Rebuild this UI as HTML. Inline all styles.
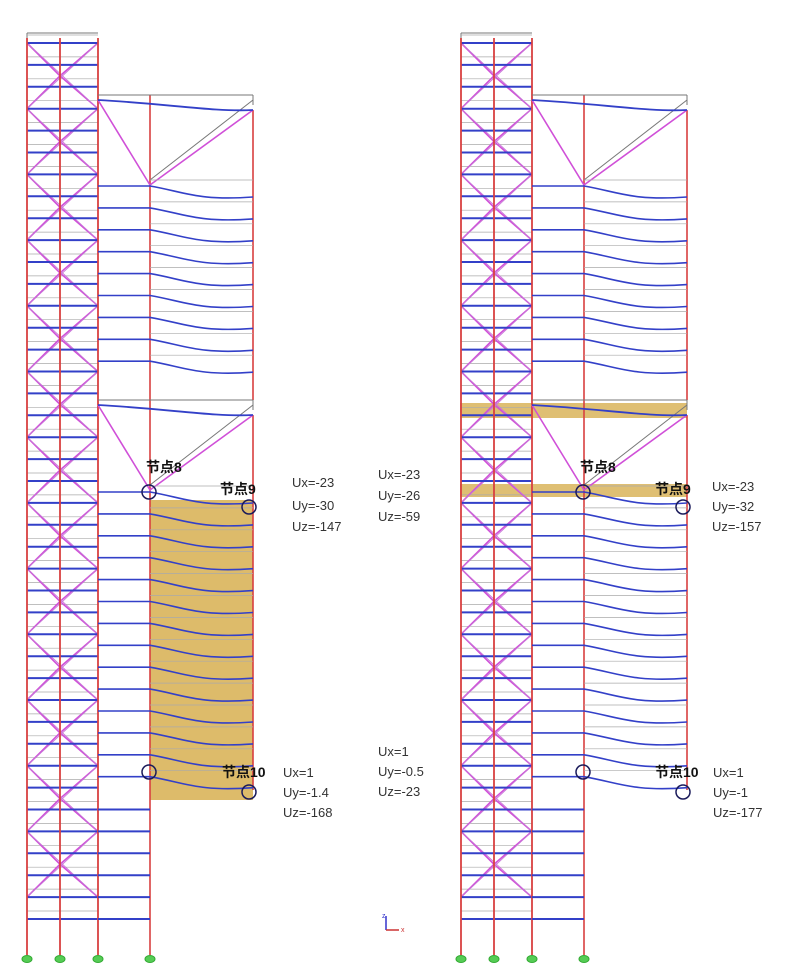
<!DOCTYPE html>
<html><head><meta charset="utf-8"><style>
body{margin:0;background:#fff;}
svg{display:block}
.t{font-family:"Liberation Sans","Noto Sans CJK SC",sans-serif;font-size:13px;fill:#333}
.b{font-family:"Liberation Sans","Noto Sans CJK SC",sans-serif;font-size:14px;font-weight:bold;fill:#111}
</style></head><body>
<svg id="s" width="808" height="976" viewBox="0 0 808 976" xmlns="http://www.w3.org/2000/svg">
<rect width="808" height="976" fill="#fff"/>
<g id="g"></g>
<text class="b" x="146" y="472">节点8</text>
<text class="b" x="220" y="494">节点9</text>
<text class="t" x="292" y="487">Ux=-23</text>
<text class="t" x="292" y="510">Uy=-30</text>
<text class="t" x="292" y="531">Uz=-147</text>
<text class="t" x="378" y="479">Ux=-23</text>
<text class="t" x="378" y="500">Uy=-26</text>
<text class="t" x="378" y="521">Uz=-59</text>
<text class="b" x="222" y="777">节点10</text>
<text class="t" x="283" y="777">Ux=1</text>
<text class="t" x="283" y="797">Uy=-1.4</text>
<text class="t" x="283" y="817">Uz=-168</text>
<text class="t" x="378" y="756">Ux=1</text>
<text class="t" x="378" y="776">Uy=-0.5</text>
<text class="t" x="378" y="796">Uz=-23</text>
<text class="b" x="580" y="472">节点8</text>
<text class="b" x="655" y="494">节点9</text>
<text class="t" x="712" y="491">Ux=-23</text>
<text class="t" x="712" y="511">Uy=-32</text>
<text class="t" x="712" y="531">Uz=-157</text>
<text class="b" x="655" y="777">节点10</text>
<text class="t" x="713" y="777">Ux=1</text>
<text class="t" x="713" y="797">Uy=-1</text>
<text class="t" x="713" y="817">Uz=-177</text>
<g stroke-width="1.5">
<line x1="386" y1="930" x2="386" y2="916" stroke="#33c"/>
<line x1="386" y1="930" x2="399" y2="930" stroke="#c33"/>
</g>
<text x="382" y="918" font-size="7" fill="#33c" font-family="Liberation Sans">z</text>
<text x="401" y="932" font-size="7" fill="#c33" font-family="Liberation Sans">x</text>
</svg>
<script>
var g=document.getElementById('g'),NS='http://www.w3.org/2000/svg';
function el(t,a){var e=document.createElementNS(NS,t);for(var k in a)e.setAttribute(k,a[k]);g.appendChild(e);return e;}
function L(x1,y1,x2,y2,c,w){el('line',{x1:x1,y1:y1,x2:x2,y2:y2,stroke:c,'stroke-width':w||1});}
function P(d,c,w){el('path',{d:d,stroke:c,'stroke-width':w||1,fill:'none'});}
var BL='#3340c8',MG='#d050d8',RD='#d84040',GR='#777';
function draw(o,right){
  var c=[27+o,60+o,98+o],cc=150+o,re=253+o;
  if(right){el('rect',{x:460,y:403,width:227,height:15,fill:'#d9b45a',opacity:0.85});el('rect',{x:460,y:484,width:227,height:13,fill:'#d9b45a',opacity:0.85});}
  else el('rect',{x:150,y:500,width:103,height:300,fill:'#d9b45a',opacity:0.9});
  L(c[0],33,c[2],33,GR);L(c[0],33,c[0],100,GR);
  var fl=[];for(var y=43;y<=925;y+=21.9)fl.push(y);
  for(var i=0;i<fl.length;i++){L(c[0],fl[i]-8,c[2],fl[i]-8,'#aaa',0.7);}
  for(var i=0;i+2<fl.length;i+=3){var y1=fl[i],y2=fl[i+3]||fl[fl.length-1];var ym=(y1+y2)/2;
    P('M'+c[0]+' '+y1+'L'+c[1]+' '+ym+'L'+c[2]+' '+y1+'M'+c[0]+' '+y2+'L'+c[1]+' '+ym+'L'+c[2]+' '+y2,MG,1.6);
    P('M'+c[0]+' '+y1+'L'+c[2]+' '+y2+'M'+c[2]+' '+y1+'L'+c[0]+' '+y2,'#c87ad8',0.9);}
  for(var i=0;i<fl.length;i++)L(c[0],fl[i],c[2],fl[i],BL,2);
  c.forEach(function(x){L(x,38,x,955,RD,1.8);});
  L(cc,95,cc,955,RD,1.6);L(re,110,re,400,RD,1.6);L(re,415,re,790,RD,1.6);
  [[95,185,100],[400,490,405]].forEach(function(b){
    L(c[2],b[0],re,b[0],GR);L(re,b[0],re,b[0]+10,GR);
    L(cc,b[1]-5,re,b[0]+5,GR);
    P('M'+c[2]+' '+b[2]+'L'+cc+' '+b[1]+'L'+re+' '+(b[0]+15),MG,1.6);
    P('M'+c[2]+' '+b[2]+'C'+(cc+20)+' '+(b[2]+4)+' '+(re-40)+' '+(b[2]+12)+' '+re+' '+(b[0]+15),BL,1.8);
  });
  function sag(y0,y1){for(var y=y0;y<=y1;y+=21.9){L(cc,y-6,re,y-6,'#aaa',0.7);
    P('M'+c[2]+' '+y+'L'+cc+' '+y+'C'+(cc+35)+' '+(y+6)+' '+(re-55)+' '+(y+15)+' '+re+' '+(y+11),BL,1.6);}}
  sag(186,380);sag(492,780);
  for(var i=0;i<fl.length;i++)if(fl[i]>790)L(c[2],fl[i],cc,fl[i],BL,2);
  var ck='#1a1a5a';
  el('circle',{cx:cc-1,cy:492,r:7,fill:'none',stroke:ck,'stroke-width':1.5});
  el('circle',{cx:re-4,cy:507,r:7,fill:'none',stroke:ck,'stroke-width':1.5});
  el('circle',{cx:cc-1,cy:772,r:7,fill:'none',stroke:ck,'stroke-width':1.5});
  el('circle',{cx:re-4,cy:792,r:7,fill:'none',stroke:ck,'stroke-width':1.5});
  [c[0],c[1],c[2],cc].forEach(function(x){el('ellipse',{cx:x,cy:959,rx:5,ry:3.5,fill:'#5c5',stroke:'#3a3'});});
}
draw(0,false);draw(434,true);
</script>
</body></html>
